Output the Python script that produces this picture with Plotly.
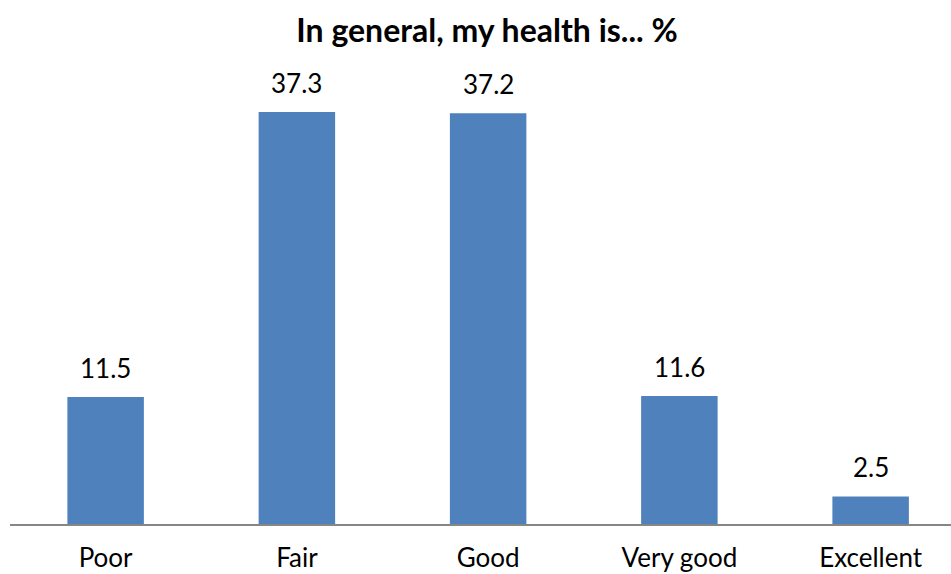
import plotly.graph_objects as go

# Self-rated health distribution (%)
categories = ["Poor", "Fair", "Good", "Very good", "Excellent"]
values = [11.5, 37.3, 37.2, 11.6, 2.5]
value_labels = ["11.5", "37.3", "37.2", "11.6", "2.5"]

FONT = "Lato, 'Open Sans', Arial, sans-serif"
BAR_COLOR = "#4F81BD"

fig = go.Figure(
    go.Bar(
        x=list(range(len(categories))),
        y=values,
        width=0.4,
        marker=dict(color=BAR_COLOR, line=dict(width=0)),
        hoverinfo="skip",
    )
)

# Value labels above each bar
for i, (v, t) in enumerate(zip(values, value_labels)):
    fig.add_annotation(
        x=i, y=v, text=t, showarrow=False,
        xanchor="center", yanchor="middle", yshift=29,
        font=dict(family=FONT, size=26, color="#000000"),
    )

fig.update_layout(
    width=951, height=574,
    margin=dict(l=10, r=0, t=80, b=50, autoexpand=False),
    paper_bgcolor="white", plot_bgcolor="white",
    showlegend=False,
    title=dict(
        text="<b>In general, my health is... %</b>",
        x=487 / 951, xanchor="center",
        y=1 - 31 / 574, yanchor="middle",
        font=dict(family=FONT, size=32, color="#000000"),
    ),
)

fig.update_xaxes(
    range=[-0.5, -0.5 + 941 / 191.25],
    tickmode="array",
    tickvals=list(range(len(categories))),
    ticktext=categories,
    showline=True, linecolor="#868686", linewidth=2,
    showgrid=False, zeroline=False, ticks="",
    automargin=False,
    ticklabelstandoff=10,
    tickfont=dict(family=FONT, size=26, color="#000000"),
)
fig.update_yaxes(
    range=[0, 40.2],
    visible=False,
    showgrid=False, zeroline=False,
)

fig.write_html("out.html")
